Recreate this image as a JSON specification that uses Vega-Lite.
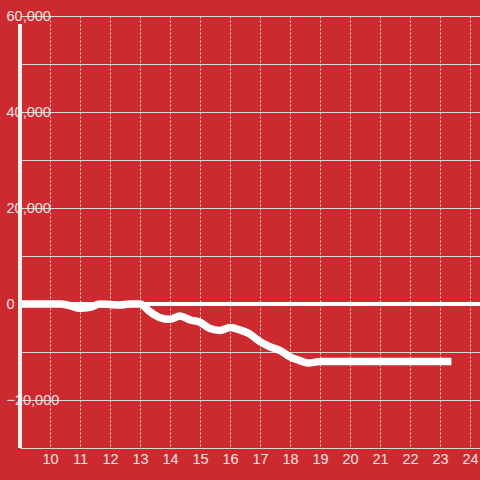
{
  "$schema": "https://vega.github.io/schema/vega-lite/v6.json",
  "width": 460,
  "height": 432,
  "autosize": {"type": "none"},
  "padding": {"left": 20, "top": 16, "right": 0, "bottom": 32},
  "background": "#CD2A30",
  "config": {
    "view": {"stroke": null},
    "font": "Liberation Sans",
    "axis": {
      "labelColor": "#F6E2E3",
      "labelFontSize": 14.5,
      "labelFont": "Liberation Sans",
      "ticks": false,
      "domain": false,
      "title": null,
      "gridColor": "#D8D8D8",
      "gridWidth": 1,
      "gridOpacity": 1,
      "labelOverlap": false,
      "labelBound": false,
      "labelFlush": false
    },
    "axisX": {"labelOverlap": false}
  },
  "data": {
    "values": [
      {"t": 9.0, "v": 0},
      {"t": 9.33, "v": 0},
      {"t": 9.67, "v": 0},
      {"t": 10.0, "v": 0},
      {"t": 10.33, "v": 0},
      {"t": 10.67, "v": -350},
      {"t": 11.0, "v": -900},
      {"t": 11.33, "v": -700},
      {"t": 11.67, "v": 0},
      {"t": 12.0, "v": -100},
      {"t": 12.33, "v": -200},
      {"t": 12.67, "v": 0},
      {"t": 13.0, "v": 0},
      {"t": 13.33, "v": -1600},
      {"t": 13.67, "v": -2850},
      {"t": 14.0, "v": -3200},
      {"t": 14.33, "v": -2500},
      {"t": 14.67, "v": -3300},
      {"t": 15.0, "v": -3800},
      {"t": 15.33, "v": -5100},
      {"t": 15.67, "v": -5500},
      {"t": 16.0, "v": -4900},
      {"t": 16.33, "v": -5400},
      {"t": 16.67, "v": -6300},
      {"t": 17.0, "v": -7850},
      {"t": 17.33, "v": -8900},
      {"t": 17.67, "v": -9700},
      {"t": 18.0, "v": -11000},
      {"t": 18.33, "v": -11800},
      {"t": 18.6, "v": -12300},
      {"t": 19.0, "v": -12000},
      {"t": 19.5, "v": -12000},
      {"t": 20.0, "v": -12000},
      {"t": 20.5, "v": -12000},
      {"t": 21.0, "v": -12000},
      {"t": 21.5, "v": -12000},
      {"t": 22.0, "v": -12000},
      {"t": 22.5, "v": -12000},
      {"t": 23.0, "v": -12000},
      {"t": 23.38, "v": -12000}
    ]
  },
  "encoding": {
    "x": {
      "field": "t",
      "type": "quantitative",
      "scale": {"domain": [9, 24.333], "nice": false, "zero": false},
      "axis": {
        "values": [10, 11, 12, 13, 14, 15, 16, 17, 18, 19, 20, 21, 22, 23, 24],
        "gridDash": [2, 2],
        "labelPadding": 4,
        "labelOverlap": false
      }
    },
    "y": {
      "field": "v",
      "type": "quantitative",
      "scale": {"domain": [-30000, 60000], "nice": false},
      "axis": {
        "values": [-30000, -20000, -10000, 0, 10000, 20000, 30000, 40000, 50000, 60000],
        "labelExpr": "datum.value % 20000 === 0 ? datum.label : ''",
        "labelAlign": "left",
        "labelPadding": 14,
        "labelBaseline": "middle"
      }
    }
  },
  "layer": [
    {
      "mark": {"type": "line", "color": "white", "strokeWidth": 7.5, "interpolate": "monotone", "strokeCap": "butt"}
    },
    {
      "mark": {"type": "rule", "color": "white", "strokeWidth": 3},
      "encoding": {"x": null, "y": {"datum": 0}}
    },
    {
      "mark": {"type": "rule", "color": "#F2F2F2", "strokeWidth": 3.5},
      "encoding": {"x": {"datum": 9}, "y": {"datum": -30000}, "y2": {"datum": 58333}}
    }
  ]
}
